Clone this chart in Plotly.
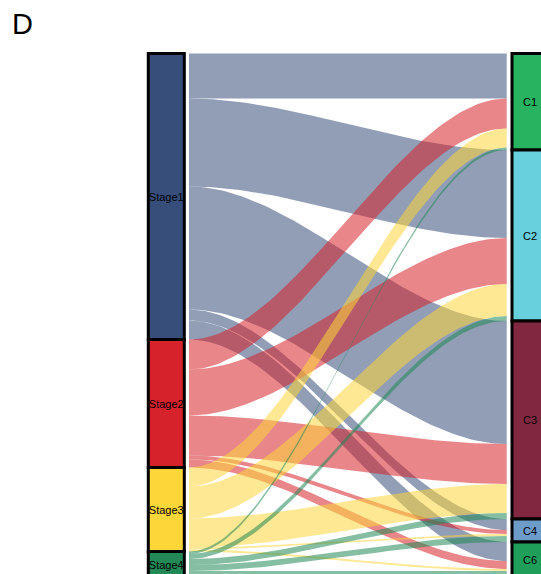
import numpy as np
import plotly.graph_objects as go

# ---- data ----
stages = ["Stage1", "Stage2", "Stage3", "Stage4"]
clusters = ["C1", "C2", "C3", "C4", "C6"]
stage1_to = [45, 88, 123, 11, 19]
stage2_to = [30, 46, 40, 4, 8]
stage3_to = [19, 32, 29, 2, 2]
stage4_to = [2.5, 5, 6, 6, 7]
flows = [stage1_to, stage2_to, stage3_to, stage4_to]

stage_colors = [(55, 78, 122), (214, 34, 42), (253, 214, 58), (33, 136, 86)]
cluster_colors = ["#27B35F", "#68D0DC", "#812840", "#6E9CC9", "#1F9E5A"]
flow_alpha = 0.55

# ---- geometry (layout constants) ----
X_LEFT, X_RIGHT = 1.0, 2.0
BOX_W = 0.099
FLOW_X0, FLOW_X1 = 1.0624, 1.936
LABEL_DY = 1.5

F = np.array(flows, dtype=float)
stage_tot = F.sum(axis=1)
clus_tot = F.sum(axis=0)
stage_base = np.concatenate([[0], np.cumsum(stage_tot)[:-1]])
clus_base = np.concatenate([[0], np.cumsum(clus_tot)[:-1]])

# offsets inside each stratum: left ordered by cluster, right ordered by stage
left_off = stage_base[:, None] + np.concatenate([np.zeros((F.shape[0], 1)), np.cumsum(F, axis=1)[:, :-1]], axis=1)
right_off = clus_base[None, :] + np.concatenate([np.zeros((1, F.shape[1])), np.cumsum(F, axis=0)[:-1, :]], axis=0)

fig = go.Figure()

t = np.linspace(0, 1, 80)
s = 3 * t ** 2 - 2 * t ** 3
xs = FLOW_X0 + (FLOW_X1 - FLOW_X0) * t

for i in range(F.shape[0]):
    r, g, b = stage_colors[i]
    col = f"rgba({r},{g},{b},{flow_alpha})"
    for j in range(F.shape[1]):
        w = F[i, j]
        if w <= 0:
            continue
        ya = left_off[i, j]
        yb = right_off[i, j]
        top = ya + (yb - ya) * s
        bot = top + w
        x_path = np.concatenate([xs, xs[::-1]])
        y_path = np.concatenate([top, bot[::-1]])
        fig.add_trace(go.Scatter(x=x_path, y=y_path, mode="lines", fill="toself",
                                 fillcolor=col, line=dict(width=0), hoverinfo="skip",
                                 showlegend=False))

# strata boxes
for i, name in enumerate(stages):
    r, g, b = stage_colors[i]
    fig.add_trace(go.Bar(x=[X_LEFT], y=[stage_tot[i]], base=[stage_base[i]], width=BOX_W,
                         marker=dict(color=f"rgb({r},{g},{b})", line=dict(color="black", width=3)),
                         showlegend=False, hoverinfo="skip"))
for j, name in enumerate(clusters):
    fig.add_trace(go.Bar(x=[X_RIGHT], y=[clus_tot[j]], base=[clus_base[j]], width=BOX_W,
                         marker=dict(color=cluster_colors[j], line=dict(color="black", width=3)),
                         showlegend=False, hoverinfo="skip"))

# labels
lab_font = dict(size=11, color="black", family="Arial, Liberation Sans")
fig.add_trace(go.Scatter(x=[X_LEFT] * len(stages), y=stage_base + stage_tot / 2 + LABEL_DY, text=stages,
                         mode="text", textfont=lab_font,
                         showlegend=False, hoverinfo="skip", cliponaxis=False))
fig.add_trace(go.Scatter(x=[X_RIGHT] * len(clusters), y=clus_base + clus_tot / 2 + LABEL_DY, text=clusters,
                         mode="text", textfont=lab_font,
                         showlegend=False, hoverinfo="skip", cliponaxis=False))

W, H = 541, 574
px_per_x = 363.7
left_px = 166.3
top_px = 53.5

fig.update_layout(
    width=W, height=H, margin=dict(l=0, r=0, t=0, b=0),
    paper_bgcolor="white", plot_bgcolor="white",
    barmode="overlay", showlegend=False,
    xaxis=dict(range=[X_LEFT - left_px / px_per_x, X_LEFT + (W - left_px) / px_per_x],
               visible=False, fixedrange=True),
    yaxis=dict(range=[H - top_px, -top_px], visible=False, fixedrange=True),
    annotations=[dict(text="D", xref="paper", yref="paper", x=10 / W, y=1 - 6 / H,
                      xanchor="left", yanchor="top", showarrow=False,
                      font=dict(size=29, color="black", family="Arial, Liberation Sans"))],
)

fig.write_html("out.html", config={"displayModeBar": False},
               post_script="document.body.style.margin='0';document.body.style.overflow='hidden';")
